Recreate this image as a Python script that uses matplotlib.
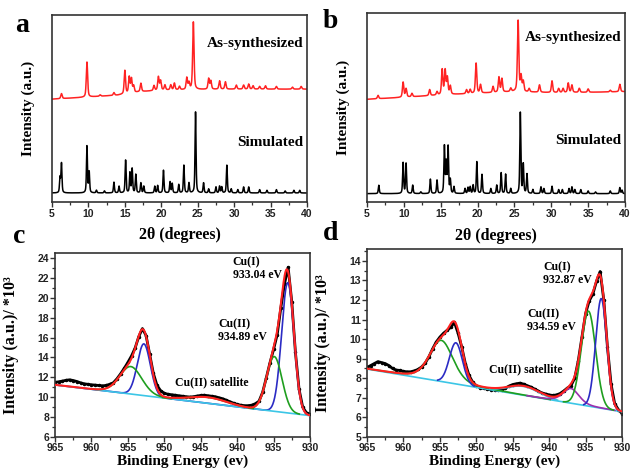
import numpy as np
import matplotlib
matplotlib.use("Agg")
import matplotlib.pyplot as plt
from matplotlib.ticker import MultipleLocator

# ---------------- XRD data (peak positions in 2theta, heights in a.u.) ----------------
a_sim_pos = [6.1, 6.3, 9.8, 10.1, 11.1, 12.2, 13.5, 14.2, 15.1, 15.7, 16.0, 16.5, 17.2, 17.6,
             19.1, 19.5, 20.3, 21.2, 21.5, 22.4, 23.1, 23.8, 24.7, 25.8, 26.5, 27.5, 28.0,
             28.3, 29.0, 29.6, 30.5, 31.3, 32.0, 33.5, 34.5, 35.8, 37.0, 38.2, 39.0]
a_sim_h = [45, 88, 140, 62, 8, 6, 32, 20, 98, 60, 72, 55, 30, 20,
           20, 22, 68, 33, 28, 25, 83, 30, 243, 30, 12, 18, 20,
           18, 83, 12, 10, 18, 18, 10, 8, 10, 6, 8, 8]
a_sim_base = 27

a_syn_pos = [6.3, 9.8, 11.6, 13.5, 15.0, 15.6, 15.9, 16.2, 17.2, 19.0, 19.6, 19.9, 20.5, 21.3,
             21.8, 22.5, 23.5, 23.8, 24.4, 26.5, 26.8, 28.0, 28.8, 30.3, 31.3, 32.0, 32.6,
             33.5, 34.3, 35.8, 38.0, 39.2]
a_syn_h = [15, 105, 4, 8, 70, 48, 42, 20, 25, 15, 40, 28, 15, 15,
           20, 10, 35, 20, 202, 32, 25, 25, 22, 12, 12, 15, 10,
           8, 10, 8, 6, 8]
a_syn_bg_x = [5, 9, 14, 17, 20, 25, 30, 40]
a_syn_bg_y = [308, 313, 320, 330, 335, 337, 338, 338]

b_sim_pos = [6.6, 9.9, 10.3, 11.2, 12.3, 13.6, 14.5, 15.5, 15.75, 16.0, 16.3, 16.8, 18.3, 18.7,
             19.0, 19.4, 19.9, 20.6, 21.8, 22.6, 23.2, 23.8, 24.5, 25.8, 26.2, 26.7, 27.5,
             28.6, 29.0, 30.1, 31.0, 31.5, 32.4, 32.8, 33.2, 34.0, 35.0, 36.0, 38.0, 39.3, 39.6]
b_sim_h = [25, 92, 90, 25, 5, 43, 40, 140, 90, 138, 40, 20, 15, 18,
           20, 25, 95, 57, 15, 25, 62, 58, 15, 242, 87, 58, 12,
           20, 15, 22, 12, 12, 15, 20, 12, 12, 8, 5, 8, 18, 10]
b_sim_base = 25

b_syn_pos = [6.5, 9.9, 10.3, 11.1, 13.5, 14.5, 15.2, 15.6, 15.9, 16.3, 18.5, 19.0, 19.8, 20.4,
             22.1, 22.9, 23.3, 24.5, 25.5, 25.9, 26.2, 27.0, 28.4, 30.1, 31.0, 31.6, 32.3,
             32.8, 33.8, 35.0, 38.0, 39.3]
b_syn_h = [10, 45, 25, 10, 18, 10, 75, 72, 50, 25, 12, 12, 90, 25,
           18, 45, 40, 10, 212, 45, 30, 10, 22, 35, 12, 12, 28,
           22, 12, 10, 5, 22]
b_syn_bg_x = [5, 10, 15, 20, 25, 30, 35, 40]
b_syn_bg_y = [307, 313, 320, 325, 330, 327, 328, 330]

xrd_ticks = [5, 10, 15, 20, 25, 30, 35, 40]

# ---------------- XPS data ----------------
be_start, be_end, be_step = 965.0, 930.0, 0.5
c_raw = [11.5, 11.55, 11.62, 11.7, 11.75, 11.68, 11.58, 11.45, 11.35, 11.3, 11.25, 11.22,
         11.18, 11.15, 11.18, 11.3, 11.45, 11.85, 12.35, 12.9, 13.5, 14.15, 14.95, 16.1,
         16.9, 16.2, 14.3, 12.4, 11.2, 10.65, 10.4, 10.3, 10.25, 10.2, 10.15, 10.1, 10.05,
         10.02, 10.05, 10.12, 10.18, 10.2, 10.15, 10.1, 10.05, 9.95, 9.85, 9.7, 9.55, 9.4,
         9.28, 9.2, 9.15, 9.15, 9.2, 9.35, 9.6, 10.5, 11.95, 13.45, 14.8, 16.3, 19.0, 21.4,
         23.05, 19.6, 14.5, 10.8, 9.0, 8.45, 8.3]
c_bg_x = [930, 965]
c_bg_y = [8.15, 11.24]
c_centers = [954.6, 952.8, 944.0, 934.9, 933.05]
c_heights = [2.76, 5.2, 0.6, 5.5, 13.1]
c_fwhm = [3.6, 2.1, 6.0, 2.5, 2.0]
c_eta = [0.1, 0.0, 0.0, 0.0, 0.0]
c_group = ["green", "blue", "sat", "green", "blue"]

d_raw = [8.55, 8.65, 8.75, 8.85, 8.8, 8.75, 8.65, 8.5, 8.42, 8.4, 8.35, 8.33, 8.33, 8.38,
         8.45, 8.58, 8.78, 9.1, 9.5, 9.85, 10.1, 10.3, 10.45, 10.6, 10.85, 10.3, 9.6, 8.75,
         8.15, 7.8, 7.62, 7.52, 7.48, 7.45, 7.42, 7.4, 7.4, 7.42, 7.5, 7.6, 7.68, 7.72, 7.75,
         7.7, 7.62, 7.55, 7.45, 7.35, 7.25, 7.2, 7.15, 7.12, 7.15, 7.22, 7.35, 7.5, 7.62,
         8.0, 8.9, 10.1, 11.3, 11.95, 12.3, 12.95, 13.45, 12.0, 9.6, 7.7, 6.7, 6.4, 6.2]
d_bg_x = [930, 965]
d_bg_y = [6.29, 8.47]
d_centers = [954.8, 952.8, 943.5, 937.0, 934.6, 932.85]
d_heights = [2.1, 2.1, 0.45, 0.75, 4.85, 5.6]
d_fwhm = [3.8, 2.1, 5.0, 2.6, 2.3, 1.8]
d_eta = [0.3, 0.0, 0.0, 0.3, 0.0, 0.0]
d_colors_key = ["green", "blue", "cyan", "purple", "green", "blue"]

# ---------------- style ----------------
SERIF = "Liberation Serif"
SANS = "Liberation Sans"
RED = "#ff2222"
GREEN = "#1f9e1f"
BLUE = "#2b2bc4"
CYAN = "#3cc6e6"
PURPLE = "#9b2fae"
SPINE = "#333333"
COLORS = {"green": GREEN, "blue": BLUE, "cyan": CYAN, "purple": PURPLE, "sat": GREEN}


def pv(x, c, h, w, eta):
    d2 = (x - c) ** 2 / w ** 2
    return h * ((1 - eta) * np.exp(-4 * np.log(2) * d2) + eta / (1 + 4 * d2))


def pattern(x, pos, hts, w, eta=0.5):
    y = np.zeros_like(x)
    for p, h in zip(pos, hts):
        y += pv(x, p, h, w, eta)
    return y


fig = plt.figure(figsize=(6.3, 4.75), dpi=100)


def ax_at(l, r, t, b):
    return fig.add_axes([l / 630, 1 - b / 475, (r - l) / 630, (b - t) / 475])


def style_spines(ax):
    for s in ax.spines.values():
        s.set_color(SPINE)
        s.set_linewidth(1.2)


def tick_font(ax):
    for lab in ax.get_xticklabels() + ax.get_yticklabels():
        lab.set_fontfamily(SANS)
        lab.set_fontweight("bold")
        lab.set_fontsize(7.5)
        lab.set_color("#222222")


# ---------------- XRD panels ----------------
xg = np.linspace(5, 40, 4001)
xrd_specs = [
    dict(box=(52, 307, 15, 202), ylim=560, sim=(a_sim_pos, a_sim_h, a_sim_base),
         syn=(a_syn_pos, a_syn_h, a_syn_bg_x, a_syn_bg_y), letter="a", lx=15, ly=26,
         asy=0.85, simy=0.32),
    dict(box=(367, 625, 13, 202), ylim=565, sim=(b_sim_pos, b_sim_h, b_sim_base),
         syn=(b_syn_pos, b_syn_h, b_syn_bg_x, b_syn_bg_y), letter="b", lx=323, ly=22,
         asy=0.868, simy=0.323),
]
for sp in xrd_specs:
    l, r, t, b = sp["box"]
    ax = ax_at(l, r, t, b)
    sp_pos, sp_h, base = sp["sim"]
    ax.plot(xg, base + pattern(xg, sp_pos, sp_h, 0.16), color="black", lw=1.1)
    sy_pos, sy_h, bgx, bgy = sp["syn"]
    ax.plot(xg, np.interp(xg, bgx, bgy) + pattern(xg, sy_pos, sy_h, 0.22), color=RED, lw=1.1)
    ax.set_xlim(5, 40)
    ax.set_ylim(0, sp["ylim"])
    ax.set_xticks(xrd_ticks)
    ax.xaxis.set_minor_locator(MultipleLocator(2.5))
    ax.set_yticks([])
    ax.tick_params(axis="x", which="major", direction="out", length=3.5, width=1.0,
                   pad=1.5, colors=SPINE, labelcolor="#222222")
    ax.tick_params(axis="x", which="minor", direction="out", length=2, width=0.9, colors=SPINE)
    style_spines(ax)
    tick_font(ax)
    ax.set_xlabel("2θ (degrees)", fontfamily=SERIF, fontweight="bold", fontsize=11.5)
    ax.xaxis.set_label_coords(0.5, -0.135)
    ax.set_ylabel("Intensity (a.u.)", fontfamily=SERIF, fontweight="bold", fontsize=11)
    ax.yaxis.set_label_coords(-0.065, 0.5)
    ax.text(0.985, sp["asy"], "As-synthesized", transform=ax.transAxes, ha="right",
            va="center", fontfamily=SERIF, fontweight="bold", fontsize=11)
    ax.text(0.985, sp["simy"], "Simulated", transform=ax.transAxes, ha="right",
            va="center", fontfamily=SERIF, fontweight="bold", fontsize=11)
    fig.text(sp["lx"] / 630, 1 - sp["ly"] / 475, sp["letter"], fontfamily=SERIF,
             fontweight="bold", fontsize=20, va="center", ha="left")

# ---------------- XPS panels ----------------
be_raw = np.arange(be_start, be_end - 0.01, -be_step)
be = np.linspace(965, 930, 1401)

# panel c
axc = ax_at(55, 310, 253, 437)
bgc = np.interp(be, c_bg_x, c_bg_y)
comps_c = [pv(be, c, h, w, e) for c, h, w, e in zip(c_centers, c_heights, c_fwhm, c_eta)]
axc.plot(be_raw, c_raw, color="black", lw=2.0, marker=".", ms=3, zorder=2)
blue_sum = sum(cp for cp, g in zip(comps_c, c_group) if g == "blue")
green_sum = sum(cp for cp, g in zip(comps_c, c_group) if g == "green")
sat_sum = sum(cp for cp, g in zip(comps_c, c_group) if g == "sat")
axc.plot(be, bgc + blue_sum, color=BLUE, lw=1.2, zorder=3)
axc.plot(c_bg_x, c_bg_y, color=CYAN, lw=1.2, zorder=4)
axc.plot(be, np.where(sat_sum > 0.03, bgc + sat_sum, np.nan), color=GREEN, lw=1.2, zorder=4.5)
axc.plot(be, np.where(green_sum > 0.03, bgc + green_sum, np.nan), color=GREEN, lw=1.2, zorder=5)
axc.plot(be, bgc + sum(comps_c), color=RED, lw=1.5, zorder=6)
axc.set_xlim(965, 930)
axc.set_ylim(6, 24.5)
axc.yaxis.set_major_locator(MultipleLocator(2))
axc.yaxis.set_minor_locator(MultipleLocator(1))

# panel d
axd = ax_at(367, 622, 249, 437)
bgd = np.interp(be, d_bg_x, d_bg_y)
comps_d = [pv(be, c, h, w, e) for c, h, w, e in zip(d_centers, d_heights, d_fwhm, d_eta)]
axd.plot(be_raw, d_raw, color="black", lw=2.0, marker=".", ms=3, zorder=2)
axd.plot(d_bg_x, d_bg_y, color=CYAN, lw=1.2, zorder=3)
for cp, key in zip(comps_d, d_colors_key):
    thr = 0.01 if key in ("purple", "green") else 0.04
    yy = np.where(cp > thr, bgd + cp, np.nan)
    axd.plot(be, yy, color=COLORS[key], lw=1.2, zorder=4)
axd.plot(be, bgd + sum(comps_d), color=RED, lw=1.5, zorder=6)
axd.set_xlim(965, 930)
axd.set_ylim(5, 14.6)
axd.yaxis.set_major_locator(MultipleLocator(1))
axd.yaxis.set_minor_locator(MultipleLocator(0.5))

for ax, letter, lx, ly in [(axc, "c", 13, 236), (axd, "d", 323, 234)]:
    ax.xaxis.set_major_locator(MultipleLocator(5))
    ax.xaxis.set_minor_locator(MultipleLocator(2.5))
    ax.tick_params(which="major", direction="out", length=3.5, width=1.0, pad=0.8,
                   colors=SPINE, labelcolor="#222222")
    ax.tick_params(which="minor", direction="out", length=2, width=0.9, colors=SPINE)
    style_spines(ax)
    tick_font(ax)
    ax.set_xlabel("Binding Energy (ev)", fontfamily=SERIF, fontweight="bold", fontsize=11)
    ax.xaxis.set_label_coords(0.5, -0.095)
    ax.set_ylabel("Intensity (a.u.)/ *10³", fontfamily=SERIF, fontweight="bold", fontsize=11.5)
    ax.yaxis.set_label_coords(-0.14, 0.5)
    fig.text(lx / 630, 1 - ly / 475, letter, fontfamily=SERIF, fontweight="bold",
             fontsize=20, va="center", ha="left")

ann = dict(fontfamily=SERIF, fontweight="bold", fontsize=8.5, ha="left", va="center", zorder=8)
axc.text(940.6, 23.6, "Cu(I)", **ann)
axc.text(940.6, 22.3, "933.04 eV", **ann)
axc.text(942.6, 17.3, "Cu(II)", **ann)
axc.text(942.6, 16.07, "934.89 eV", **ann)
axc.text(948.5, 11.55, "Cu(II) satellite", **ann)

axd.text(940.8, 13.68, "Cu(I)", **ann)
axd.text(940.8, 13.01, "932.87 eV", **ann)
axd.text(943.0, 11.28, "Cu(II)", **ann)
axd.text(943.0, 10.62, "934.59 eV", **ann)
axd.text(948.3, 8.47, "Cu(II) satellite", **ann)

fig.savefig("out.png", dpi=100)
